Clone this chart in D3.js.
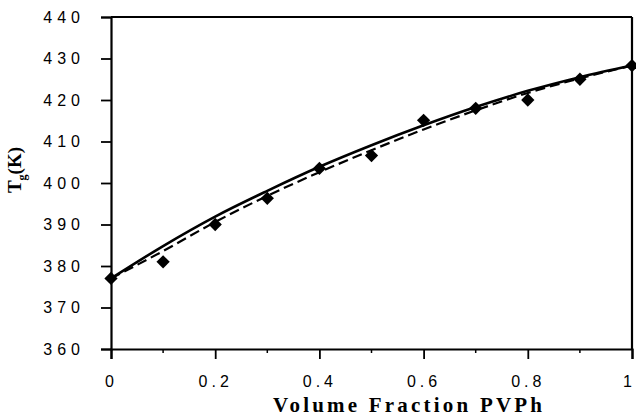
<!DOCTYPE html>
<html>
<head>
<meta charset="utf-8">
<script src="https://cdn.jsdelivr.net/npm/d3@7"></script>
<style>
  body { margin: 0; background: #fff; }
</style>
</head>
<body>
<div id="chart"></div>
<script>
// Measured Tg values (diamonds)
const fraction = [0, 0.1, 0.2, 0.3, 0.4, 0.5, 0.6, 0.7, 0.8, 0.9, 1.0];
const tgMeasured = [377, 381, 390, 396.3, 403.5, 406.6, 415.1, 418, 420, 425, 428.3];

// Fitted curves
const tgSolid = [377, 384.8, 391.9, 398.1, 403.9, 409.1, 413.9, 418.3, 422.2, 425.5, 428.3];
const tgDashed = [377, 383.6, 390.6, 396.9, 402.6, 407.9, 412.9, 417.5, 421.7, 425.2, 428.3];

const xTicks = [0, 0.2, 0.4, 0.6, 0.8, 1];
const xMinor = [0.1, 0.3, 0.5, 0.7, 0.9];
const yTicks = [360, 370, 380, 390, 400, 410, 420, 430, 440];

let width = 636,
    height = 418;

let margin = { top: 17, bottom: 69, left: 111, right: 4 };

let svg = d3.select('#chart')
    .append('svg')
    .attr('width', width)
    .attr('height', height);

let xScale = d3.scaleLinear()
    .domain([0, 1])
    .range([margin.left, width - margin.right]);

let yScale = d3.scaleLinear()
    .domain([360, 440])
    .range([height - margin.bottom, margin.top]);

const tickFont = '"Liberation Sans", Arial, sans-serif';

// y axis
let yAxis = svg.append('g')
    .attr('transform', `translate(${margin.left},0)`)
    .call(d3.axisLeft(yScale).tickValues(yTicks).tickSize(10).tickPadding(16).tickFormat(d3.format('d')));
yAxis.selectAll('text')
    .style('font-family', tickFont)
    .style('font-size', '16px')
    .style('letter-spacing', '5px');

// x axis
let xAxis = svg.append('g')
    .attr('transform', `translate(0,${height - margin.bottom})`)
    .call(d3.axisBottom(xScale).tickValues(xTicks).tickSize(10).tickPadding(17).tickFormat(d => d === 0 || d === 1 ? d : d3.format('.1f')(d)));
xAxis.selectAll('text')
    .style('font-family', tickFont)
    .style('font-size', '16px')
    .style('letter-spacing', '4px');
xAxis.selectAll('.tick:last-of-type text').attr('dx', '-3px');

// minor ticks on x
svg.append('g')
    .selectAll('line')
    .data(xMinor)
    .join('line')
    .attr('x1', d => xScale(d))
    .attr('x2', d => xScale(d))
    .attr('y1', yScale(360))
    .attr('y2', yScale(360) + 4)
    .attr('stroke', '#000')
    .attr('stroke-width', 1.5);

svg.selectAll('.domain').attr('stroke-width', 2.2);
svg.selectAll('.tick line').attr('stroke-width', 1.8);

// frame on top and right
svg.append('line')
    .attr('x1', xScale(0)).attr('x2', xScale(1))
    .attr('y1', yScale(440)).attr('y2', yScale(440))
    .attr('stroke', '#000').attr('stroke-width', 2.2);
svg.append('line')
    .attr('x1', xScale(1)).attr('x2', xScale(1))
    .attr('y1', yScale(440)).attr('y2', yScale(360))
    .attr('stroke', '#000').attr('stroke-width', 2.2);

// curves
const line = d3.line()
    .x((d, i) => xScale(fraction[i]))
    .y(d => yScale(d))
    .curve(d3.curveMonotoneX);

svg.append('path')
    .attr('d', line(tgDashed))
    .attr('fill', 'none')
    .attr('stroke', '#000')
    .attr('stroke-width', 2.2)
    .attr('stroke-dasharray', '10,5');

svg.append('path')
    .attr('d', line(tgSolid))
    .attr('fill', 'none')
    .attr('stroke', '#000')
    .attr('stroke-width', 2.6);

// diamonds
const diamond = d3.symbol(d3.symbolSquare, 88);
svg.selectAll('.pt')
    .data(tgMeasured)
    .join('path')
    .attr('class', 'pt')
    .attr('d', diamond)
    .attr('transform', (d, i) => `translate(${xScale(fraction[i])},${yScale(d)}) rotate(45)`)
    .attr('fill', '#000');

// x axis label
svg.append('text')
    .attr('x', 273)
    .attr('y', 412)
    .attr('textLength', 269)
    .attr('lengthAdjust', 'spacing')
    .text('Volume Fraction PVPh')
    .style('font-family', '"Liberation Serif", "Times New Roman", serif')
    .style('font-weight', 'bold')
    .style('font-size', '21px');

// y axis label
let yLabel = svg.append('text')
    .attr('transform', 'translate(21,170) rotate(-90)')
    .style('text-anchor', 'middle')
    .style('font-family', '"Liberation Serif", "Times New Roman", serif')
    .style('font-weight', 'bold')
    .style('font-size', '19px');
yLabel.append('tspan').text('T');
yLabel.append('tspan').text('g').attr('dy', 5).style('font-size', '12px');
yLabel.append('tspan').text('(K)').attr('dy', -5);
</script>
</body>
</html>
